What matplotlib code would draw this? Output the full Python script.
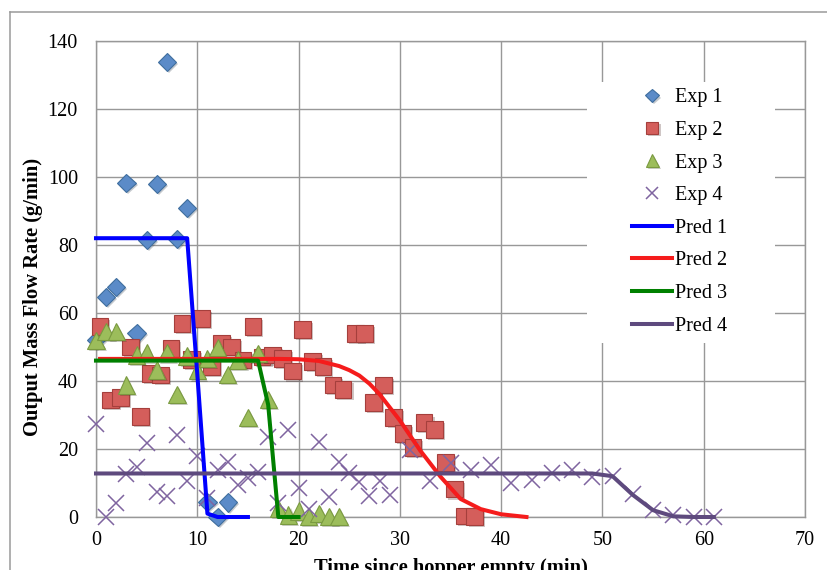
import matplotlib
matplotlib.use("Agg")
import matplotlib.pyplot as plt
import matplotlib.patheffects as pe
from matplotlib.lines import Line2D
from matplotlib.patches import Rectangle

# experimental data (time in min, output mass flow rate in g/min)
exp1_t = [0, 1, 2, 3, 4, 5, 6, 7, 8, 9, 11, 12, 13]
exp1_q = [52, 64.8, 67.7, 98.3, 54, 81.5, 98, 133.9, 81.7, 90.8, 4.5, 0.1, 4.3]

exp2_t = [0.4, 1.4, 2.4, 3.4, 4.4, 5.4, 6.4, 7.4, 8.5, 9.4, 10.4, 11.4, 12.4,
          13.4, 14.5, 15.5, 16.4, 17.4, 18.4, 19.4, 20.4, 21.4, 22.4, 23.4,
          24.4, 25.6, 26.5, 27.4, 28.4, 29.4, 30.3, 31.3, 32.4, 33.4, 34.5,
          35.4, 36.4, 37.4]
exp2_q = [56, 34.4, 35.2, 50, 29.5, 42.3, 41.8, 49.6, 57, 46.4, 58.4, 44.2, 51,
          50, 46.2, 56, 47.1, 47.6, 46.7, 42.9, 55.2, 45.7, 44.2, 38.8,
          37.5, 54, 54, 33.6, 38.8, 29.3, 24.6, 20.5, 27.7, 25.8, 16,
          8.2, 0.3, 0.1]

exp3_t = [0, 1, 2, 3, 4, 5, 6, 7, 8, 9, 10, 11, 12, 13, 14, 15, 16, 17, 18,
          19, 20, 21, 22, 23, 24]
exp3_q = [52, 54.5, 54.5, 38.8, 47.6, 48.3, 43.2, 48.3, 36.1, 47.4, 43, 46.7,
          49.8, 42, 46.2, 29.2, 48.1, 34.6, 2.5, 0.6, 1.8, 0.2, 1, 0.2, 0.2]

exp4_t = [0, 1, 2, 3, 4, 5, 6, 7, 8, 9, 10, 11, 12, 13, 14, 15, 16, 17, 18, 19,
          20, 21, 22, 23, 24, 25, 26, 27, 28, 29, 31, 33, 35, 37, 39, 41, 43,
          45, 47, 49, 51, 53, 55, 57, 59, 61]
exp4_q = [27.5, 0, 4, 12.6, 14.6, 21.7, 7.5, 6.3, 24.1, 10.7,
          17.9, 5.5, 13.8, 16.3, 9.4, 11.6, 13.3, 23.6, 4.2, 25.5,
          8.4, 2.3, 22.2, 6, 16.2, 12.9, 10.4, 6.2, 10.6, 6.5,
          19.7, 10.5, 15.8, 13.8, 15.3, 9.9, 10.9, 13, 13.8, 11.9,
          12.2, 6.8, 2, 0.6, 0, 0]

# model predictions
pred1_t = [0, 9, 10, 11, 12, 15]
pred1_q = [82, 82, 42, 1, 0, 0]
pred2_t = [0.4, 18, 20, 22, 24, 25, 26, 27, 28, 30, 32, 34, 36, 38, 40, 42.5]
pred2_q = [46.5, 46.5, 46.4, 45.9, 44.4, 43.2, 41.6, 39.2, 36.1, 28.4, 19.6, 11.9,
           5.3, 2.3, 0.8, 0]
pred3_t = [0, 16, 17, 18, 20]
pred3_q = [46, 46, 33, 0, 0]
pred4_t = [0, 49, 51, 53, 55, 57, 59, 61]
pred4_q = [12.8, 12.8, 12, 6.5, 2, 0.2, 0, 0]

plt.rcParams["font.family"] = ["Liberation Serif", "DejaVu Serif"]

W, H = 827, 570
fig = plt.figure(figsize=(W / 100, H / 100), dpi=100)
ax = fig.add_axes([96 / W, 1 - 517 / H, (805 - 96) / W, (517 - 41) / H])

grid_col = "#989898"
shadow = [pe.SimplePatchShadow(offset=(1.5, -1.5), alpha=0.25), pe.Normal()]

# scatter series
ax.plot(exp1_t, exp1_q, "D", ms=9.3, mfc="#5B8BC8", mec="#3F6E9E", mew=0.8,
        label="Exp 1", clip_on=False, zorder=3, path_effects=shadow)
ax.plot(exp2_t, exp2_q, "s", ms=12, mfc="#D45E5B", mec="#A53F3C", mew=0.8,
        label="Exp 2", clip_on=False, zorder=3, path_effects=shadow)
ax.plot(exp3_t, exp3_q, "^", ms=12.5, mfc="#9CBD5B", mec="#7A9A40", mew=0.8,
        label="Exp 3", clip_on=False, zorder=3, path_effects=shadow)
ax.plot(exp4_t, exp4_q, "x", ms=11.5, color="#7F64A0", mew=1.1,
        label="Exp 4", clip_on=False, zorder=3)

# prediction lines
ax.plot(pred1_t, pred1_q, color="#0000FF", lw=2.9, label="Pred 1", zorder=4,
        solid_joinstyle="round", clip_on=False)
ax.plot(pred2_t, pred2_q, color="#F51C1C", lw=2.9, label="Pred 2", zorder=4,
        solid_joinstyle="round", clip_on=False)
ax.plot(pred3_t, pred3_q, color="#008000", lw=2.9, label="Pred 3", zorder=4,
        solid_joinstyle="round", clip_on=False)
ax.plot(pred4_t, pred4_q, color="#5E4A7E", lw=2.9, label="Pred 4", zorder=4,
        solid_joinstyle="round", clip_on=False)

ax.set_xlim(0, 70)
ax.set_ylim(0, 140)
ax.set_xticks(range(0, 71, 10))
ax.set_yticks(range(0, 141, 20))
ax.set_axisbelow(True)
ax.grid(True, color=grid_col, lw=1.0)
for s in ax.spines.values():
    s.set_color(grid_col)
    s.set_linewidth(1.0)
ax.tick_params(length=0, labelsize=14.5, colors="black")
ax.tick_params(axis="y", pad=13)
ax.tick_params(axis="x", pad=10)

ax.set_ylabel("Output Mass Flow Rate (g/min)", fontsize=14.8, fontweight="bold")
ax.yaxis.label.set_va("center")
ax.yaxis.set_label_coords((33 - 96) / 709, (517 - 297) / 476)
ax.set_xlabel("Time since hopper empty (min)", fontsize=14.8, fontweight="bold",
              labelpad=6)

# white legend area covering the grid
x0, x1 = (587 - 96) / (805 - 96), (775 - 96) / (805 - 96)
y0, y1 = (517 - 343) / (517 - 41), (517 - 82) / (517 - 41)
ax.add_patch(Rectangle((x0, y0), x1 - x0, y1 - y0, transform=ax.transAxes,
                       facecolor="white", edgecolor="none", zorder=1))
leg = ax.legend(loc="center left",
                bbox_to_anchor=((624 - 96) / (805 - 96), (517 - 212) / 476),
                frameon=False, fontsize=14.5, handlelength=2.0, handletextpad=0.15,
                labelspacing=0.67, borderaxespad=0, markerscale=0.75)

# outer chart border (left and top visible)
fig.add_artist(Line2D([10 / W, 10 / W], [0, 1 - 12 / H], transform=fig.transFigure,
                      color="#9A9A9A", lw=1.1))
fig.add_artist(Line2D([10 / W, 1], [1 - 12 / H, 1 - 12 / H], transform=fig.transFigure,
                      color="#9A9A9A", lw=1.1))

fig.savefig("out.png", dpi=100)
